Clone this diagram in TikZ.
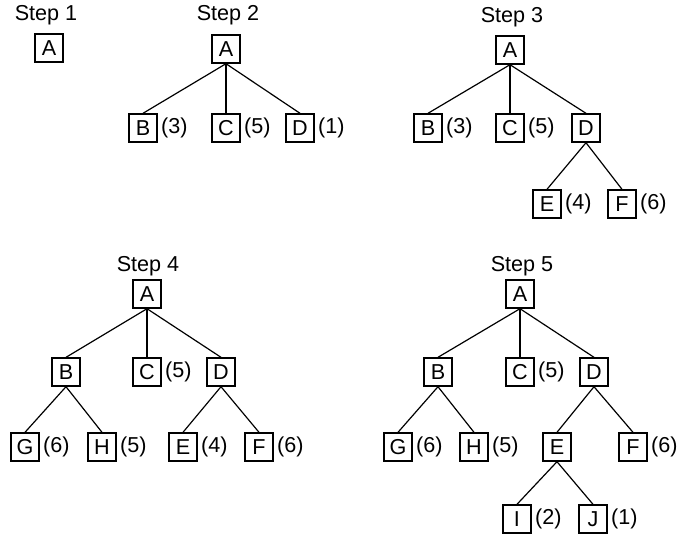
\documentclass[tikz,border=0pt]{standalone}
\usepackage{fontspec}
\setmainfont{Liberation Sans}
\usetikzlibrary{positioning}
\tikzset{
	box/.style={draw, line width=0.7pt, minimum size=14pt, inner sep=0pt, font=\fontsize{10.8}{12}\selectfont},
	cost/.style={inner sep=0pt, font=\fontsize{10.8}{12}\selectfont},
	steptitle/.style={inner sep=0pt, font=\fontsize{10.8}{12}\selectfont},
	edge/.style={line width=0.6pt}
}

\begin{document}
\begin{tikzpicture}[x=0.5pt, y=-0.5pt]
	%%%%% START %%%%%
	\useasboundingbox (0, 0) rectangle (677, 536);
	
	% Step 1
	\node[steptitle] (t1) at (46, 15) {Step 1};
	\node[box] (s1a) at (49, 48) {A};
	
	% Step 2
	\node[steptitle] (t2) at (228, 15) {Step 2};
	\node[box] (s2a) at (226, 49) {A};
	\node[box] (s2b) at (143, 128) {B};
	\node[box] (s2c) at (226, 128) {C};
	\node[box] (s2d) at (300, 128) {D};
	\node[cost, right=1.5pt of s2b] (s2bc) {(3)};
	\node[cost, right=1.5pt of s2c] (s2cc) {(5)};
	\node[cost, right=1.5pt of s2d] (s2dc) {(1)};
	\draw[edge] (s2a.south) -- (s2b.north);
	\draw[edge] (s2a.south) -- (s2c.north);
	\draw[edge] (s2a.south) -- (s2d.north);
	
	% Step 3
	\node[steptitle] (t3) at (512, 17) {Step 3};
	\node[box] (s3a) at (510, 50) {A};
	\node[box] (s3b) at (428, 128) {B};
	\node[box] (s3c) at (510, 128) {C};
	\node[box] (s3d) at (586, 128) {D};
	\node[box] (s3e) at (547, 204) {E};
	\node[box] (s3f) at (622, 204) {F};
	\node[cost, right=1.5pt of s3b] (s3bc) {(3)};
	\node[cost, right=1.5pt of s3c] (s3cc) {(5)};
	\node[cost, right=1.5pt of s3e] (s3ec) {(4)};
	\node[cost, right=1.5pt of s3f] (s3fc) {(6)};
	\draw[edge] (s3a.south) -- (s3b.north);
	\draw[edge] (s3a.south) -- (s3c.north);
	\draw[edge] (s3a.south) -- (s3d.north);
	\draw[edge] (s3d.south) -- (s3e.north);
	\draw[edge] (s3d.south) -- (s3f.north);
	
	% Step 4
	\node[steptitle] (t4) at (148, 266) {Step 4};
	\node[box] (s4a) at (147, 294) {A};
	\node[box] (s4b) at (66, 372) {B};
	\node[box] (s4c) at (147, 372) {C};
	\node[box] (s4d) at (221, 372) {D};
	\node[box] (s4g) at (25, 447) {G};
	\node[box] (s4h) at (102, 447) {H};
	\node[box] (s4e) at (183, 447) {E};
	\node[box] (s4f) at (259, 447) {F};
	\node[cost, right=1.5pt of s4c] (s4cc) {(5)};
	\node[cost, right=1.5pt of s4g] (s4gc) {(6)};
	\node[cost, right=1.5pt of s4h] (s4hc) {(5)};
	\node[cost, right=1.5pt of s4e] (s4ec) {(4)};
	\node[cost, right=1.5pt of s4f] (s4fc) {(6)};
	\draw[edge] (s4a.south) -- (s4b.north);
	\draw[edge] (s4a.south) -- (s4c.north);
	\draw[edge] (s4a.south) -- (s4d.north);
	\draw[edge] (s4b.south) -- (s4g.north);
	\draw[edge] (s4b.south) -- (s4h.north);
	\draw[edge] (s4d.south) -- (s4e.north);
	\draw[edge] (s4d.south) -- (s4f.north);
	
	% Step 5
	\node[steptitle] (t5) at (522, 266) {Step 5};
	\node[box] (s5a) at (520, 294) {A};
	\node[box] (s5b) at (438, 372) {B};
	\node[box] (s5c) at (520, 372) {C};
	\node[box] (s5d) at (594, 372) {D};
	\node[box] (s5g) at (398, 447) {G};
	\node[box] (s5h) at (474, 447) {H};
	\node[box] (s5e) at (557, 447) {E};
	\node[box] (s5f) at (633, 447) {F};
	\node[box] (s5i) at (517, 519) {I};
	\node[box] (s5j) at (593, 519) {J};
	\node[cost, right=1.5pt of s5c] (s5cc) {(5)};
	\node[cost, right=1.5pt of s5g] (s5gc) {(6)};
	\node[cost, right=1.5pt of s5h] (s5hc) {(5)};
	\node[cost, right=1.5pt of s5f] (s5fc) {(6)};
	\node[cost, right=1.5pt of s5i] (s5ic) {(2)};
	\node[cost, right=1.5pt of s5j] (s5jc) {(1)};
	\draw[edge] (s5a.south) -- (s5b.north);
	\draw[edge] (s5a.south) -- (s5c.north);
	\draw[edge] (s5a.south) -- (s5d.north);
	\draw[edge] (s5b.south) -- (s5g.north);
	\draw[edge] (s5b.south) -- (s5h.north);
	\draw[edge] (s5d.south) -- (s5e.north);
	\draw[edge] (s5d.south) -- (s5f.north);
	\draw[edge] (s5e.south) -- (s5i.north);
	\draw[edge] (s5e.south) -- (s5j.north);
	
	%%%%% END %%%%%
\end{tikzpicture}
\end{document}
